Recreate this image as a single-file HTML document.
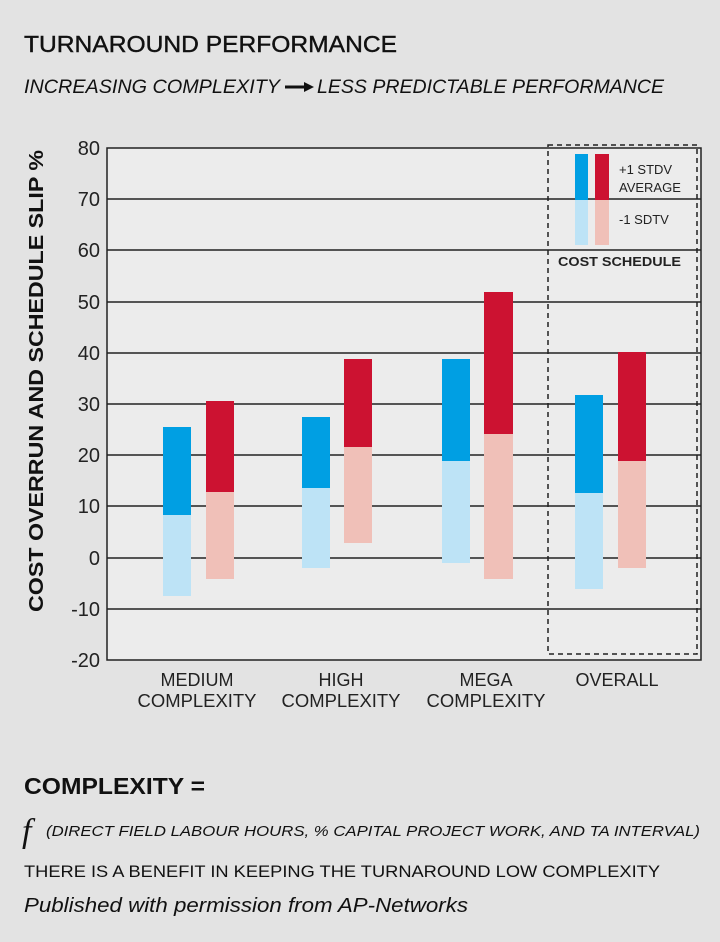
<!DOCTYPE html>
<html><head><style>
body{margin:0;background:#e3e3e3;}
svg{display:block;font-family:"Liberation Sans",Arial,sans-serif;}
</style></head><body>
<svg width="720" height="942" xmlns="http://www.w3.org/2000/svg">
<rect width="720" height="942" fill="#e3e3e3"/>
<text x="24" y="52" font-size="23" fill="#111" textLength="373" lengthAdjust="spacingAndGlyphs" stroke="#111" stroke-width="0.4">TURNAROUND PERFORMANCE</text>
<text x="24" y="93" font-size="19" font-style="italic" fill="#111" textLength="256" lengthAdjust="spacingAndGlyphs">INCREASING COMPLEXITY</text>
<line x1="285" y1="87" x2="306" y2="87" stroke="#111" stroke-width="3"/>
<polygon points="304,82 314,87 304,92" fill="#111"/>
<text x="317" y="93" font-size="19" font-style="italic" fill="#111" textLength="347" lengthAdjust="spacingAndGlyphs">LESS PREDICTABLE PERFORMANCE</text>
<rect x="107" y="148" width="594" height="512" fill="#ececec" stroke="#222" stroke-width="1.5"/>
<g stroke="#222" stroke-width="1.5">
<line x1="107" y1="199" x2="701" y2="199"/><line x1="107" y1="250" x2="701" y2="250"/>
<line x1="107" y1="302" x2="701" y2="302"/><line x1="107" y1="353" x2="701" y2="353"/>
<line x1="107" y1="404" x2="701" y2="404"/><line x1="107" y1="455" x2="701" y2="455"/>
<line x1="107" y1="506" x2="701" y2="506"/><line x1="107" y1="558" x2="701" y2="558"/>
<line x1="107" y1="609" x2="701" y2="609"/>
</g>
<g font-size="20" fill="#222" text-anchor="end">
<text x="100" y="155">80</text><text x="100" y="206">70</text><text x="100" y="257">60</text>
<text x="100" y="309">50</text><text x="100" y="360">40</text><text x="100" y="411">30</text>
<text x="100" y="462">20</text><text x="100" y="513">10</text><text x="100" y="565">0</text>
<text x="100" y="616">-10</text><text x="100" y="667">-20</text>
</g>
<text transform="translate(43,381) rotate(-90)" font-size="20" font-weight="bold" fill="#111" text-anchor="middle" textLength="462" lengthAdjust="spacingAndGlyphs">COST OVERRUN AND SCHEDULE SLIP %</text>
<g>
<rect x="163" y="427" width="28" height="88" fill="#009fe3"/><rect x="163" y="515" width="28" height="81" fill="#bde3f6"/>
<rect x="206" y="401" width="28" height="91" fill="#cc1231"/><rect x="206" y="492" width="28" height="87" fill="#f0c0b8"/>
<rect x="302" y="417" width="28" height="71" fill="#009fe3"/><rect x="302" y="488" width="28" height="80" fill="#bde3f6"/>
<rect x="344" y="359" width="28" height="88" fill="#cc1231"/><rect x="344" y="447" width="28" height="96" fill="#f0c0b8"/>
<rect x="442" y="359" width="28" height="102" fill="#009fe3"/><rect x="442" y="461" width="28" height="102" fill="#bde3f6"/>
<rect x="484" y="292" width="29" height="142" fill="#cc1231"/><rect x="484" y="434" width="29" height="145" fill="#f0c0b8"/>
<rect x="575" y="395" width="28" height="98" fill="#009fe3"/><rect x="575" y="493" width="28" height="96" fill="#bde3f6"/>
<rect x="618" y="352" width="28" height="109" fill="#cc1231"/><rect x="618" y="461" width="28" height="107" fill="#f0c0b8"/>
</g>
<rect x="575" y="154" width="13" height="46" fill="#009fe3"/><rect x="575" y="200" width="13" height="45" fill="#bde3f6"/>
<rect x="595" y="154" width="14" height="46" fill="#cc1231"/><rect x="595" y="200" width="14" height="45" fill="#f0c0b8"/>
<g font-size="13" fill="#222">
<text x="619" y="174">+1 STDV</text><text x="619" y="192">AVERAGE</text><text x="619" y="224">-1 SDTV</text>
<text x="558" y="266" font-weight="bold" font-size="12.5" textLength="123" lengthAdjust="spacingAndGlyphs">COST SCHEDULE</text>
</g>
<rect x="548" y="145" width="149" height="509" fill="none" stroke="#222" stroke-width="1.5" stroke-dasharray="5,4"/>
<g font-size="18" fill="#222" text-anchor="middle">
<text x="197" y="686">MEDIUM</text><text x="197" y="707" textLength="119" lengthAdjust="spacingAndGlyphs">COMPLEXITY</text>
<text x="341" y="686">HIGH</text><text x="341" y="707" textLength="119" lengthAdjust="spacingAndGlyphs">COMPLEXITY</text>
<text x="486" y="686">MEGA</text><text x="486" y="707" textLength="119" lengthAdjust="spacingAndGlyphs">COMPLEXITY</text>
<text x="617" y="686">OVERALL</text>
</g>
<text x="24" y="794" font-size="23" font-weight="bold" fill="#111" textLength="181" lengthAdjust="spacingAndGlyphs">COMPLEXITY =</text>
<text x="22" y="842" font-size="34" font-style="italic" font-family="Liberation Serif,serif" fill="#111">f</text>
<text x="46" y="836" font-size="15" font-style="italic" fill="#111" textLength="654" lengthAdjust="spacingAndGlyphs">(DIRECT FIELD LABOUR HOURS, % CAPITAL PROJECT WORK, AND TA INTERVAL)</text>
<text x="24" y="877" font-size="17" fill="#111" textLength="636" lengthAdjust="spacingAndGlyphs">THERE IS A BENEFIT IN KEEPING THE TURNAROUND LOW COMPLEXITY</text>
<text x="24" y="912" font-size="20" font-style="italic" fill="#111" textLength="444" lengthAdjust="spacingAndGlyphs">Published with permission from AP-Networks</text>
</svg>
</body></html>
